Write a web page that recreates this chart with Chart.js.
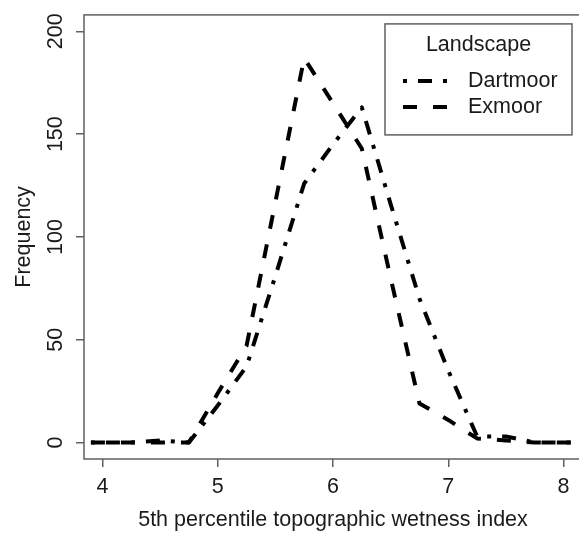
<!DOCTYPE html>
<html>
<head>
<meta charset="utf-8">
<script src="https://cdn.jsdelivr.net/npm/chart.js@4/dist/chart.umd.min.js"></script>
<style>
  html, body { margin: 0; padding: 0; overflow: hidden; background: #fff; }
  #wrap { width: 600px; height: 536px; }
</style>
</head>
<body>
<div id="wrap"><canvas id="c" width="600" height="536"></canvas></div>
<script>
// Frequency outlines of the 5th percentile topographic wetness index
const twi      = [3.9, 4.25, 4.5, 4.75, 5.0, 5.25, 5.5, 5.75, 6.0, 6.25, 6.5, 6.75, 7.0, 7.25, 7.5, 7.75, 8.0, 8.2];
const dartmoor = [0,   0,    1,   0,    18,  37,   81,  126,  145, 163,  116, 70,   35,  3,    3,   0,    0,   0];
const exmoor   = [0,   0,    0,   0,    24,  47,   117, 187,  165, 143,  80,  19,   11,  2,    1,   0,    0,   0];

const xTicks = [4, 5, 6, 7, 8];
const yTicks = [0, 50, 100, 150, 200];
const seriesNames = ['Dartmoor', 'Exmoor'];
const legendTitle = 'Landscape';
const xTitle = '5th percentile topographic wetness index';
const yTitle = 'Frequency';

const FONT = "'Liberation Sans', Arial, Helvetica, sans-serif";
const FS = 21.5;
const INK = '#1a1a1a';
const AXIS = '#606060';

const DASH_DOTDASH = [4, 11, 14, 11];
const DASH_DASHED = [14, 16];

function pts(ys) { return twi.map((x, i) => ({ x: x, y: ys[i] })); }

// Box round the plotting region plus a boxed key in its top-right corner
const frameAndKey = {
  id: 'frameAndKey',
  afterDraw(chart) {
    const ctx = chart.ctx;
    const ca = chart.chartArea;
    ctx.save();
    ctx.strokeStyle = AXIS;
    ctx.lineWidth = 1.5;
    ctx.strokeRect(ca.left, ca.top, ca.right - ca.left, ca.bottom - ca.top);

    // key
    const bx = ca.left + 301, by = ca.top + 9, bw = 187, bh = 111;
    ctx.fillStyle = '#fff';
    ctx.fillRect(bx, by, bw, bh);
    ctx.strokeRect(bx, by, bw, bh);
    ctx.fillStyle = INK;
    ctx.font = FS + 'px ' + FONT;
    ctx.textBaseline = 'middle';
    ctx.textAlign = 'center';
    ctx.fillText(legendTitle, bx + bw / 2, by + 21);
    ctx.textAlign = 'left';
    chart.data.datasets.forEach((ds, i) => {
      const y = by + 57 + i * 26;
      ctx.save();
      ctx.strokeStyle = ds.borderColor;
      ctx.lineWidth = ds.borderWidth;
      ctx.lineCap = 'butt';
      ctx.setLineDash(ds.borderDash);
      ctx.beginPath();
      ctx.moveTo(bx + 18, y);
      ctx.lineTo(bx + 62, y);
      ctx.stroke();
      ctx.restore();
      ctx.fillText(ds.label, bx + 83, y);
    });
    ctx.restore();
  }
};

new Chart(document.getElementById('c'), {
  type: 'line',
  data: {
    datasets: [
      { label: seriesNames[0], data: pts(dartmoor), borderColor: '#000', borderWidth: 4,
        borderDash: DASH_DOTDASH, borderCapStyle: 'butt', borderJoinStyle: 'round',
        pointRadius: 0, tension: 0, fill: false },
      { label: seriesNames[1], data: pts(exmoor), borderColor: '#000', borderWidth: 4,
        borderDash: DASH_DASHED, borderCapStyle: 'butt', borderJoinStyle: 'round',
        pointRadius: 0, tension: 0, fill: false }
    ]
  },
  options: {
    responsive: false,
    animation: false,
    devicePixelRatio: 1,
    layout: { padding: { left: 0, top: 14, right: 18, bottom: 0 } },
    plugins: { legend: { display: false }, tooltip: { enabled: false } },
    scales: {
      x: {
        type: 'linear', min: 3.84, max: 8.16,
        afterBuildTicks: s => { s.ticks = xTicks.map(v => ({ value: v })); },
        afterFit: s => { s.height = 77; },
        grid: { drawOnChartArea: false, drawTicks: true, tickLength: 8, color: AXIS, lineWidth: 1.5 },
        border: { display: false },
        ticks: { color: INK, font: { family: FONT, size: FS }, padding: 7, maxRotation: 0, minRotation: 0 },
        title: { display: true, text: xTitle, color: INK, font: { family: FONT, size: FS }, padding: { top: 0, bottom: 3 } }
      },
      y: {
        type: 'linear', min: -8, max: 208,
        afterBuildTicks: s => { s.ticks = yTicks.map(v => ({ value: v })); },
        afterFit: s => { s.width = 84; },
        grid: { drawOnChartArea: false, drawTicks: true, tickLength: 8, color: AXIS, lineWidth: 1.5 },
        border: { display: false },
        ticks: { color: INK, font: { family: FONT, size: FS }, padding: 2, minRotation: 90, maxRotation: 90, crossAlign: 'center' },
        title: { display: true, text: yTitle, color: INK, font: { family: FONT, size: FS }, padding: { top: 11, bottom: 0 } }
      }
    }
  },
  plugins: [frameAndKey]
});
</script>
</body>
</html>
